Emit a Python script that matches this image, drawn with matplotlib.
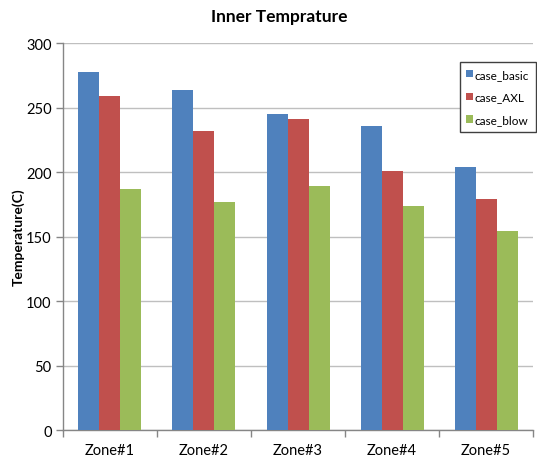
import numpy as np
import matplotlib
matplotlib.use("Agg")
from matplotlib import pyplot as plt

zones = ["Zone#1", "Zone#2", "Zone#3", "Zone#4", "Zone#5"]
case_basic = [278, 264, 245, 236, 204]
case_axl = [259, 232, 241, 201, 179]
case_blow = [187, 177, 189, 174, 154]

series = [("case_basic", case_basic, "#4F81BD"),
          ("case_AXL", case_axl, "#C0504D"),
          ("case_blow", case_blow, "#9BBB59")]

plt.rcParams['font.family'] = ['Lato', 'DejaVu Sans']

fig = plt.figure(figsize=(5.37, 4.60), dpi=100)
ax = fig.add_axes([0.117, 0.063, 0.876, 0.841])

x = np.arange(len(zones))
width = 0.223
for i, (name, values, color) in enumerate(series):
    ax.bar(x + (i - 1) * width, values, width, color=color, label=name, zorder=3)

ax.set_xlim(-0.5, len(zones) - 0.5)
ax.set_ylim(0, 300)
ax.set_yticks(range(0, 301, 50))
ax.yaxis.grid(True, color="#BFBFBF", linewidth=1.0, zorder=0)

# category labels in the middle, tick marks between categories
ax.set_xticks(x)
ax.set_xticklabels(zones, fontsize=10.5)
ax.set_xticks(np.arange(-0.5, len(zones) + 0.5, 1), minor=True)
ax.tick_params(axis="x", which="major", length=0, pad=9)
ax.tick_params(axis="x", which="minor", length=5, color="#868686", width=1)
ax.tick_params(axis="y", length=5, color="#868686", width=1, labelsize=10.5, pad=3)

for side in ("top", "right"):
    ax.spines[side].set_visible(False)
for side in ("left", "bottom"):
    ax.spines[side].set_color("#868686")
    ax.spines[side].set_linewidth(1.0)

ax.set_ylabel("Temperature(C)", fontsize=10, fontweight="bold")
ax.yaxis.set_label_coords(-0.08, 0.5)
fig.text(0.52, 0.962, "Inner Temprature", ha="center", va="center",
         fontsize=12.5, fontweight="bold")

leg = fig.legend(loc="upper right", bbox_to_anchor=(1.0, 0.865), fontsize=8.5,
                 handlelength=0.6, handleheight=0.6, handletextpad=0.15,
                 labelspacing=1.0, borderpad=0.55, borderaxespad=0.1,
                 fancybox=False, framealpha=1)
leg.get_frame().set_edgecolor("#404040")
leg.get_frame().set_linewidth(1.0)

fig.savefig("out.png", dpi=100)
